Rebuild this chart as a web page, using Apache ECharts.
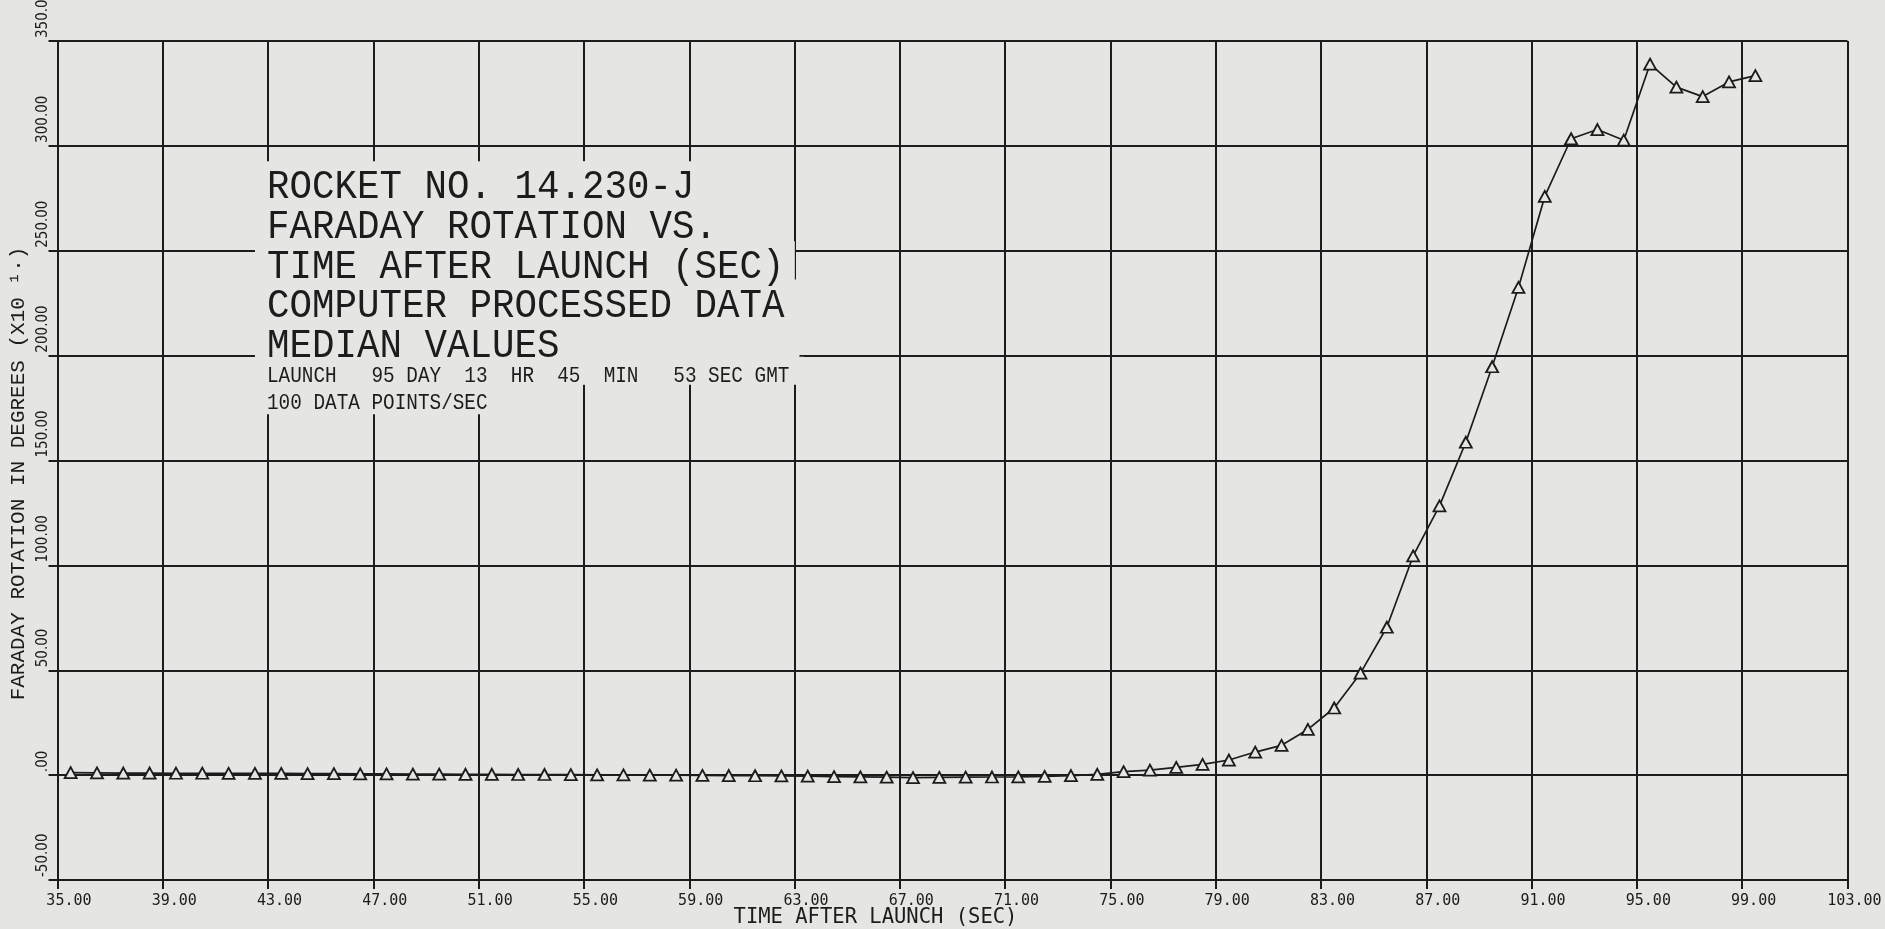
<!DOCTYPE html>
<html>
<head>
<meta charset="utf-8">
<script src="https://cdn.jsdelivr.net/npm/echarts@6/dist/echarts.min.js"></script>
<style>
  html, body { margin: 0; padding: 0; background: #e5e5e3; }
  #chart { width: 1885px; height: 929px; }
</style>
</head>
<body>
<div id="chart"></div>
<script>
// ---- data ----
const times = [
  35.5, 36.5, 37.5, 38.5, 39.5, 40.5, 41.5, 42.5, 43.5, 44.5,
  45.5, 46.5, 47.5, 48.5, 49.5, 50.5, 51.5, 52.5, 53.5, 54.5,
  55.5, 56.5, 57.5, 58.5, 59.5, 60.5, 61.5, 62.5, 63.5, 64.5,
  65.5, 66.5, 67.5, 68.5, 69.5, 70.5, 71.5, 72.5, 73.5, 74.5,
  75.5, 76.5, 77.5, 78.5, 79.5, 80.5, 81.5, 82.5, 83.5, 84.5,
  85.5, 86.5, 87.5, 88.5, 89.5, 90.5, 91.5, 92.5, 93.5, 94.5,
  95.5, 96.5, 97.5, 98.5, 99.5
];
const rotation = [
  1.2, 1.1, 1.0, 1.0, 0.9, 0.9, 0.8, 0.8, 0.8, 0.7,
  0.7, 0.6, 0.6, 0.5, 0.5, 0.4, 0.4, 0.3, 0.3, 0.2,
  0.1, 0.1, 0.0, 0.0, -0.1, -0.2, -0.3, -0.4, -0.5, -0.7,
  -0.8, -1.0, -1.2, -1.1, -1.0, -0.9, -0.8, -0.6, -0.2, 0.4,
  1.7, 2.4, 3.7, 5.1, 7.2, 11.0, 14.2, 21.8, 32.0, 48.6,
  70.5, 104.5, 128.4, 158.7, 194.7, 232.5, 275.9, 303.4, 307.8, 302.7,
  339.0, 328.0, 323.5, 330.5, 333.5
];
const xRange = [35, 103];
const xStep = 4;
const yRange = [-50, 350];
const yStep = 50;
const xTitle = 'TIME AFTER LAUNCH (SEC)';
const yTitle = 'FARADAY ROTATION IN DEGREES (X10 \u00B9\u00B7)';
const bigLines = [
  'ROCKET NO. 14.230-J',
  'FARADAY ROTATION VS.',
  'TIME AFTER LAUNCH (SEC)',
  'COMPUTER PROCESSED DATA',
  'MEDIAN VALUES          '
];
const smallLines = [
  'LAUNCH   95 DAY  13  HR  45  MIN   53 SEC GMT',
  '100 DATA POINTS/SEC'
];

// ---- style ----
const INK = '#1c1c1c';
const PAPER = '#e5e5e3';
const MONO = "'Liberation Mono', 'DejaVu Sans Mono', monospace";

function fmtX(v) { return v.toFixed(2); }
function fmtY(v) { return v === 0 ? '.00' : v.toFixed(2); }

// text block (annotation)
const blockLeft = 267;
const bigCapTops = [171.7, 211.7, 251.7, 290, 330];
const smallCapTops = [368.3, 395];
const bigRightPad = [11, 11, 11, 16, 16];
const smallRightPad = [16, 11];
const graphics = [];
function addLine(text, capTop, capH, fontSize, scaleX, padR, padB) {
  const padT = 13, padL = 13;
  const L = capH;
  const capCenter = capTop + capH / 2;
  const y = capCenter + 0.063 * fontSize - padT - L / 2;
  graphics.push({
    type: 'text',
    x: blockLeft - padL * scaleX,
    y: y,
    scaleX: scaleX,
    z: 100,
    silent: true,
    style: {
      text: text,
      font: fontSize + 'px ' + MONO,
      fill: INK,
      align: 'left',
      verticalAlign: 'top',
      lineHeight: L,
      backgroundColor: PAPER,
      padding: [padT, padR, padB, padL]
    }
  });
}
// draw bottom rows first so upper boxes do not cover lower glyphs
for (let i = smallLines.length - 1; i >= 0; i--) {
  addLine(smallLines[i], smallCapTops[i], 14, 21.2, 0.913, smallRightPad[i], i === 1 ? 4 : 1);
}
for (let i = bigLines.length - 1; i >= 0; i--) {
  addLine(bigLines[i], bigCapTops[i], 27, 40.5, 0.926, bigRightPad[i], 2);
}

const chart = echarts.init(document.getElementById('chart'), null, { renderer: 'canvas' });
const option = {
  backgroundColor: PAPER,
  animation: false,
  grid: {
    left: 57.5, top: 41, width: 1790, height: 839,
    containLabel: false, outerBoundsMode: 'none'
  },
  xAxis: {
    type: 'value',
    min: xRange[0], max: xRange[1], interval: xStep,
    axisLine: { show: true, onZero: false, lineStyle: { color: INK, width: 2 } },
    axisTick: { show: true, length: 9, lineStyle: { color: INK, width: 2 } },
    splitLine: { show: true, lineStyle: { color: INK, width: 2 } },
    axisLabel: {
      formatter: fmtX, color: INK,
      fontFamily: "'DejaVu Sans Mono', monospace", fontSize: 15,
      align: 'right', padding: [0, -34, 0, 0], margin: 14,
      showMinLabel: true, showMaxLabel: true, hideOverlap: false
    },
    name: xTitle,
    nameLocation: 'middle',
    nameGap: 27,
    nameMoveOverlap: false,
    nameTextStyle: {
      color: INK, fontFamily: "'DejaVu Sans Mono', monospace", fontSize: 20.5,
      padding: [0, 154, 0, 0]
    }
  },
  yAxis: {
    type: 'value',
    min: yRange[0], max: yRange[1], interval: yStep,
    axisLine: { show: true, onZero: false, lineStyle: { color: INK, width: 2 } },
    axisTick: { show: true, length: 9, lineStyle: { color: INK, width: 2 } },
    splitLine: { show: true, lineStyle: { color: INK, width: 2 } },
    axisLabel: {
      formatter: fmtY, color: INK, rotate: 90,
      fontFamily: "'Liberation Sans Narrow', 'DejaVu Sans Condensed', 'Liberation Sans', sans-serif",
      fontSize: 15,
      align: 'left', verticalAlign: 'bottom', padding: [0, 0, 0, 3], margin: 7,
      showMinLabel: true, showMaxLabel: true, hideOverlap: false
    },
    name: yTitle,
    nameLocation: 'middle',
    nameGap: 29,
    nameRotate: 90,
    nameMoveOverlap: false,
    nameTextStyle: {
      color: INK, fontFamily: MONO, fontSize: 21,
      padding: [0, 26, 0, 0]
    }
  },
  series: [{
    type: 'line',
    data: times.map((t, i) => [t, rotation[i]]),
    symbol: 'triangle',
    symbolSize: [12, 11],
    showSymbol: true,
    showAllSymbol: true,
    lineStyle: { color: INK, width: 1.7 },
    itemStyle: { color: PAPER, borderColor: INK, borderWidth: 1.8 },
    emphasis: { disabled: true },
    z: 5
  }],
  graphic: { elements: graphics }
};
chart.setOption(option);
</script>
</body>
</html>
